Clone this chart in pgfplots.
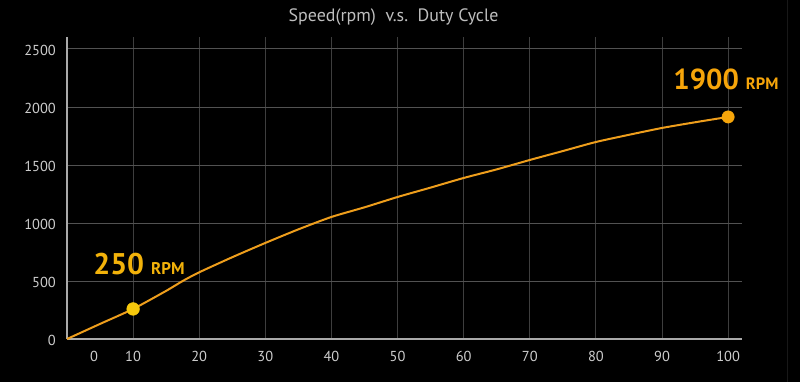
\documentclass[border=0pt]{standalone}
\usepackage{fontspec}
\setmainfont{PT Sans}
\usepackage{pgfplots}
\pgfplotsset{compat=1.18}
\definecolor{axisgray}{RGB}{170,170,170}
\definecolor{gridx}{RGB}{62,62,62}
\definecolor{gridy}{RGB}{82,82,82}
\definecolor{ticklab}{RGB}{205,205,205}
\definecolor{titlecol}{RGB}{190,190,190}
\definecolor{curvecol}{RGB}{238,158,28}
\definecolor{dotA}{RGB}{246,200,12}
\definecolor{dotB}{RGB}{246,165,10}
\definecolor{labA}{RGB}{242,178,10}
\definecolor{labB}{RGB}{246,165,10}
\definecolor{faint}{RGB}{24,24,24}
\begin{document}
\begin{tikzpicture}
\fill[black] (0bp,0bp) rectangle (800bp,382bp);
\draw[faint, line width=1bp] (787bp,0bp) -- (787bp,382bp);
\node[titlecol, anchor=base, inner sep=0, font=\fontsize{18}{18}\selectfont] at (393.5bp,360bp) {Speed(rpm)\ \ v.s.\ \ Duty Cycle};
\begin{axis}[
  at={(67bp,43bp)}, anchor=south west,
  scale only axis, width=675bp, height=302bp,
  xmin=0, xmax=102.1, ymin=0, ymax=2603,
  axis x line=bottom, axis y line=left,
  axis line style={axisgray, line width=1.6bp, -},
  xtick={10,20,...,100}, ytick={0,500,...,2500},
  extra x ticks={4.1}, extra x tick labels={0},
  extra x tick style={grid=none},
  major tick length=0,
  grid=major,
  x grid style={gridx, line width=0.9bp},
  y grid style={gridy, line width=0.9bp},
  tick label style={ticklab, font=\fontsize{14.5}{14.5}\selectfont, inner sep=0},
  xticklabel style={anchor=base, yshift=-22bp},
  yticklabel style={anchor=east, xshift=-11bp, yshift=-1.5bp},
  /pgf/number format/assume math mode=true,
  /pgf/number format/1000 sep={},
  clip=false,
]
\addplot[curvecol, line width=2bp, smooth, tension=0.4] coordinates {
(0,0) (5,130) (10,259) (15,415) (17.5,500) (20,575) (25,705) (30,828)
(35,945) (40,1052) (45,1135) (50,1224) (55,1305) (60,1388) (65,1462)
(70,1543) (75,1620) (80,1698) (85,1760) (90,1819) (95,1868) (100,1914)
};
\addplot[only marks, mark=*, mark size=6.4bp, dotA, mark options={draw=dotA, fill=dotA}] coordinates {(10,259)};
\addplot[only marks, mark=*, mark size=6.2bp, dotB, mark options={draw=dotB, fill=dotB}] coordinates {(100,1914)};
\node[labA, anchor=base west, inner sep=0] at (axis cs:3.95,552)
  {{\fontsize{30}{30}\selectfont\bfseries 250}\hspace{7bp}{\fontsize{17}{17}\selectfont\bfseries RPM}};
\node[labB, anchor=base west, inner sep=0] at (axis cs:91.7,2147)
  {{\fontsize{29}{29}\selectfont\bfseries 1900}\hspace{7bp}{\fontsize{16.5}{16.5}\selectfont\bfseries RPM}};
\end{axis}
\pgfresetboundingbox
\path (0bp,0bp) rectangle (800bp,382bp);
\end{tikzpicture}
\end{document}
